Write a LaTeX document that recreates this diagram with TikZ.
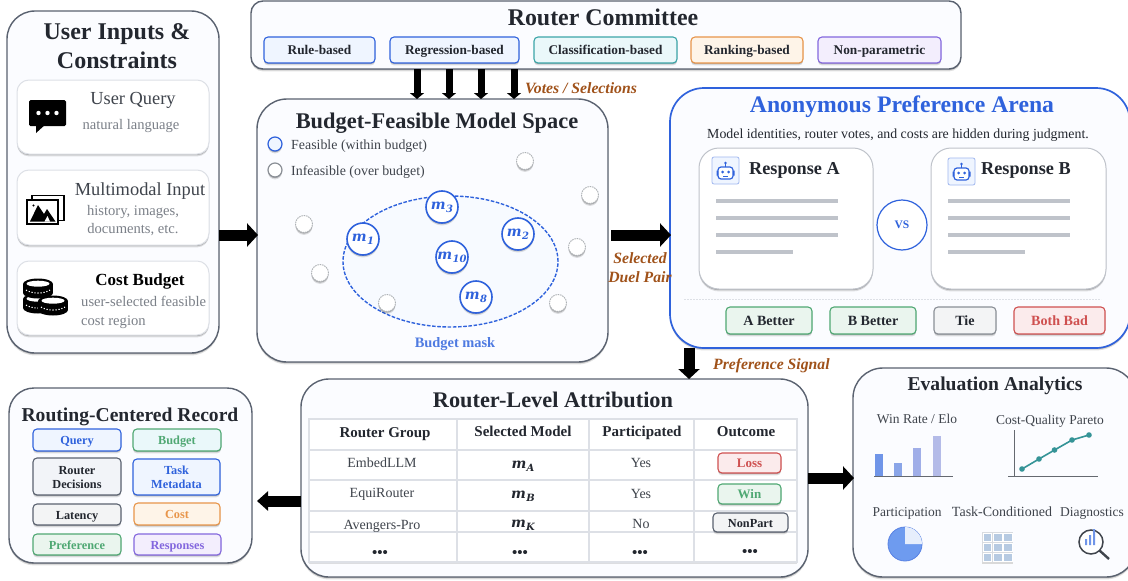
\documentclass[tikz,border=0pt]{standalone}
\usepackage{fontspec}
\usepackage{xcolor}
\setmainfont{Liberation Serif}
\newfontfamily\mathlike{DejaVu Serif}
\usetikzlibrary{arrows.meta,shadows,shapes.geometric,positioning,calc}
\definecolor{ink}{HTML}{23272F}
\definecolor{panelline}{HTML}{5A6270}
\definecolor{panelfill}{HTML}{FBFCFF}
\definecolor{cardline}{HTML}{DDE0E6}
\definecolor{soft}{HTML}{7B8088}
\definecolor{mid}{HTML}{3F444C}
\definecolor{bblue}{HTML}{2F62DC}
\definecolor{bbluefill}{HTML}{EFF5FF}
\definecolor{bgreen}{HTML}{4FA873}
\definecolor{bgreenfill}{HTML}{EAF5EE}
\definecolor{bteal}{HTML}{3BA5A8}
\definecolor{btealfill}{HTML}{EAF8FA}
\definecolor{borange}{HTML}{E8954A}
\definecolor{borangefill}{HTML}{FEF4E8}
\definecolor{bpurple}{HTML}{8367DE}
\definecolor{bpurplefill}{HTML}{F3EEFD}
\definecolor{bred}{HTML}{CF5050}
\definecolor{bredfill}{HTML}{FBEBEC}
\definecolor{bgray}{HTML}{8A8F96}
\definecolor{bgrayfill}{HTML}{F3F4F5}
\definecolor{brown}{HTML}{A0521A}
\definecolor{barline}{HTML}{BFC3CA}
\definecolor{barA}{HTML}{7095E8}
\definecolor{barB}{HTML}{8AA5E8}
\definecolor{barC}{HTML}{A0AEE8}
\definecolor{barD}{HTML}{B4BBE8}
\definecolor{pieblue}{HTML}{6E9BEF}
\definecolor{piepale}{HTML}{E6EEFC}
\definecolor{heat}{HTML}{B6CAE2}
\definecolor{heatline}{HTML}{D8DBE0}
\tikzset{
  softshadow/.style={drop shadow={shadow xshift=0pt,shadow yshift=-1.2pt,opacity=.22,fill=black},
                     drop shadow={shadow xshift=0pt,shadow yshift=-2.4pt,opacity=.12,fill=black}},
  textdrop/.style={yshift=-2.5pt},
  panel/.style={draw=panelline,line width=1.4pt,fill=panelfill,softshadow},
  card/.style={draw=cardline,line width=1pt,fill=white,rounded corners=12pt,softshadow},
  chip/.style={line width=1.1pt,rounded corners=4pt,softshadow,font=\bfseries\fontsize{12.3}{14}\selectfont,align=center,inner sep=0pt},
  chiptop/.style={font=\bfseries\fontsize{13.3}{15}\selectfont},
  chipmid/.style={font=\bfseries\fontsize{14.1}{16}\selectfont},
  chipdark/.style={chip,draw=bblue,fill=bbluefill,text=ink},
  chipbluetext/.style={chip,draw=bblue,fill=bbluefill,text=bblue},
  chipgreen/.style={chip,draw=bgreen,fill=bgreenfill,text=bgreen},
  chipgreendark/.style={chip,draw=bgreen,fill=bgreenfill,text=ink},
  chipteal/.style={chip,draw=bteal,fill=btealfill,text=ink},
  chiporange/.style={chip,draw=borange,fill=borangefill,text=ink},
  chiporangetext/.style={chip,draw=borange,fill=borangefill,text=borange},
  chippurple/.style={chip,draw=bpurple,fill=bpurplefill,text=ink},
  chippurpletext/.style={chip,draw=bpurple,fill=bpurplefill,text=bpurple},
  chipred/.style={chip,draw=bred,fill=bredfill,text=bred},
  chipgray/.style={chip,draw=bgray,fill=bgrayfill,text=ink},
  chipslate/.style={chip,draw=panelline,fill=bgrayfill,text=ink},
  title/.style={textdrop,inner sep=0pt,text=ink,text height=16.5pt,text depth=6pt,font=\bfseries\fontsize{23}{28}\selectfont},
  subtitle/.style={textdrop,inner sep=0pt,text=ink,text height=14pt,text depth=5pt,font=\bfseries\fontsize{19.6}{23}\selectfont},
  plain/.style={textdrop,inner sep=0pt,text=mid,text height=9.5pt,text depth=4pt,font=\fontsize{13.5}{16}\selectfont},
  tablecell/.style={textdrop,inner sep=0pt,text=mid,text height=9.5pt,text depth=4pt,font=\fontsize{14}{16}\selectfont},
  tablehead/.style={textdrop,inner sep=0pt,text=ink,text height=9.5pt,text depth=4pt,font=\bfseries\fontsize{15}{17}\selectfont},
  hint/.style={textdrop,inner sep=0pt,text=soft,text height=9.5pt,text depth=4pt,font=\fontsize{14.6}{16}\selectfont},
  cardtitle/.style={textdrop,inner sep=0pt,text=mid,text height=12.5pt,text depth=5pt,font=\fontsize{18.4}{20}\selectfont},
  resptitle/.style={textdrop,inner sep=0pt,text=ink,anchor=west,text height=12.5pt,text depth=5pt,font=\bfseries\fontsize{18.2}{20}\selectfont},
  flowlabel/.style={textdrop,inner sep=0pt,text=brown,text height=10.5pt,text depth=4pt,font=\bfseries\itshape\fontsize{15.7}{19}\selectfont},
  bigarrow/.style={line width=11pt,-{Triangle[length=11pt,width=23pt]},shorten >=-1pt},
  vote/.style={line width=7pt,-{Triangle[length=6pt,width=14pt]}},
  model/.style={circle,draw=bblue,line width=1.6pt,fill=white,minimum size=32pt,inner sep=0pt,text=bblue,softshadow},
  ghost/.style={circle,draw=bgray!70,dash pattern=on 1.6pt off .8pt,line width=.9pt,fill=white,minimum size=17pt,inner sep=0pt,softshadow},
  respline/.style={barline,line width=4.2pt},
  gridline/.style={cardline,line width=2pt},
  bulletrow/.style={textdrop,inner sep=0pt,text=ink,text height=8pt,text depth=0pt,font=\bfseries\fontsize{15}{16}\selectfont},
  modelsym/.style={yshift=-1pt,inner sep=0pt,text=ink},
}
\newcommand{\msym}[2]{{\mathlike\bfseries\itshape\fontsize{14}{16}\selectfont m\kern.3pt\raisebox{-3pt}{\fontsize{10}{12}\selectfont #2}}}
\newcommand{\boxat}[7]{%
  \pgfmathsetmacro{\bx}{(#2+#4)/2}\pgfmathsetmacro{\by}{(#3+#5)/2}%
  \pgfmathsetmacro{\bw}{#4-#2}\pgfmathsetmacro{\bh}{#5-#3}%
  \node[#6,minimum width=\bw pt,minimum height=\bh pt,outer sep=0pt] (#1) at (\bx,\by) {\rule{0pt}{13.8pt}#7\rule[-4.4pt]{0pt}{4.4pt}};}
\newcommand{\roboticon}[2]{%
  \begin{scope}[shift={(#1,#2)}]
    \draw[draw=bblue!45,fill=bbluefill,line width=.8pt,rounded corners=2pt] (0,0) rectangle (27,27);
    \draw[bblue,line width=1.2pt,fill=white,rounded corners=3pt] (6,10) rectangle (21,22);
    \fill[bblue] (10.5,15) circle (1.5) (16.5,15) circle (1.5);
    \draw[bblue,line width=1pt] (11,19) -- (16,19) (13.5,10) -- (13.5,7);
    \fill[bblue] (13.5,6) circle (1.4);
    \fill[bblue] (4.5,13.5) rectangle (6,18.5) (21,13.5) rectangle (22.5,18.5);
  \end{scope}}
\newcommand{\coinstack}[2]{%
  \begin{scope}[shift={(#1,#2)}]
    \fill[black] (-15,0) rectangle (15,9);
    \fill[black] (0,9) circle[x radius=15,y radius=5.5];
    \fill[black] (0,0) circle[x radius=15,y radius=5.5];
    \fill[white] (0,-.3) circle[x radius=11.5,y radius=3];
    \draw[white,line width=1.1pt,dash pattern=on 1.2pt off 1.8pt] (-12,6) .. controls (-6,10) and (6,10) .. (12,6);
  \end{scope}}
\begin{document}
\begin{tikzpicture}[x=1pt,y=-1pt]
\useasboundingbox (0,0) rectangle (1128,581);
\fill[white] (0,0) rectangle (1128,581);

% ---------- panels
\boxat{inputs}{7}{11}{219}{353}{panel,rounded corners=28pt}{}
\boxat{committee}{251}{1}{961}{69}{panel,rounded corners=12pt}{}
\boxat{space}{257}{99}{608}{362}{panel,rounded corners=30pt}{}
\boxat{arena}{670}{88}{1130}{348}{draw=bblue,line width=1.7pt,fill=panelfill,softshadow,rounded corners=34pt}{}
\boxat{record}{9}{388}{252}{563}{panel,rounded corners=25pt}{}
\boxat{attrib}{301}{379}{808}{577}{panel,rounded corners=28pt}{}
\boxat{evalp}{853}{368}{1136}{577}{panel,rounded corners=30pt}{}

% ---------- connectors
\coordinate (ya) at (0,235);
\draw[bigarrow] (inputs.east |- ya) -- (space.west |- ya);
\draw[bigarrow] ($(space.east |- ya)+(3,0)$) -- (arena.west |- ya);
\foreach \vx/\vn in {417/a,449/b,481/c,514/d}{
  \coordinate (vx\vn) at (\vx,0);
  \draw[vote] (committee.south -| vx\vn) -- (space.north -| vx\vn);
}
\coordinate (xp) at (689,0);
\draw[line width=11pt,-{Triangle[length=10pt,width=21pt]}] (arena.south -| xp) -- (attrib.north -| xp);
\coordinate (yr) at (0,478);
\draw[bigarrow] (attrib.east |- yr) -- (evalp.west |- yr);
\coordinate (yl) at (0,501);
\draw[line width=11pt,-{Triangle[length=11pt,width=19pt]}] (attrib.west |- yl) -- ($(record.east |- yl)+(5,0)$);

\node[flowlabel,anchor=west] (lvotes) at (525,88) {Votes / Selections};
\node[flowlabel] (lduel1) at (640,258) {Selected};
\node[flowlabel] (lduel2) at (640,277) {Duel Pair};
\node[flowlabel,anchor=west] (lpref) at (713,364) {Preference Signal};

% ---------- inputs
\node[title,font=\bfseries\fontsize{24}{28}\selectfont] (tinputs1) at (117,32) {User Inputs \&};
\node[title,font=\bfseries\fontsize{24}{28}\selectfont] (tinputs2) at (117,60.5) {Constraints};
\boxat{cquery}{17}{80}{209}{154}{card}{}
\boxat{cmulti}{17}{170}{209}{245}{card}{}
\boxat{ccost}{17}{261}{209}{335}{card}{}
\node[cardtitle] (uq) at (133,98) {User Query};
\node[hint] (nl) at (131,124) {natural language};
\node[cardtitle] (mi) at (140,189) {Multimodal Input};
\node[hint] (hi) at (133,210) {history, images,};
\node[hint] (doc) at (133,228) {documents, etc.};
\node[textdrop,inner sep=0pt,text=black,text height=12pt,text depth=4pt,font=\bfseries\fontsize{17}{18}\selectfont] (cb) at (140,279) {Cost Budget};
\node[hint,anchor=west] (us) at (81,301) {user-selected feasible};
\node[hint,anchor=west] (cr) at (81,320) {cost region};
% speech bubble icon
\fill[black,rounded corners=1.5pt] (29,100) rectangle (66,126);
\fill[black] (36,124) -- (36,133) -- (46,124) -- cycle;
\fill[white] (38.5,113) circle (2.2) (47.5,113) circle (2.2) (56.5,113) circle (2.2);
% images icon
\draw[black,line width=1.8pt,fill=white] (32,195.5) rectangle (64,220.5);
\draw[black,line width=1.8pt,fill=white] (27,200) rectangle (58,224);
\fill[black] (30,221.5) -- (38,205) -- (44,214) -- (47,209) -- (55.5,221.5) -- cycle;
\fill[white] (44.5,221.5) -- (47.5,216) -- (50,221.5) -- cycle;
\fill[black] (33.5,205.5) circle (1.1);
% coins icon
\coinstack{38}{299}
\coinstack{38}{284}
\coinstack{53}{301}

% ---------- committee
\node[title,font=\bfseries\fontsize{23.9}{28}\selectfont] (tcomm) at (603,18) {Router Committee};
\boxat{rule}{264}{37}{375}{63}{chipdark,chiptop}{Rule-based}
\boxat{regr}{390}{37}{519}{63}{chipdark,chiptop}{Regression-based}
\boxat{clas}{534}{37}{677}{63}{chipteal,chiptop}{Classification-based}
\boxat{rank}{691}{37}{803}{63}{chiporange,chiptop}{Ranking-based}
\boxat{nonp}{818}{37}{941}{63}{chippurple,chiptop}{Non-parametric}

% ---------- model space
\node[title,font=\bfseries\fontsize{22.4}{28}\selectfont] (tspace) at (437,121) {Budget-Feasible Model Space};
\node[circle,draw=bblue,line width=1.2pt,fill=bbluefill,minimum size=14pt,inner sep=0pt,softshadow] (legf) at (275,144) {};
\node[circle,draw=bgray,line width=1.2pt,fill=white,minimum size=14pt,inner sep=0pt,softshadow] (legi) at (275,170) {};
\node[plain,anchor=west,font=\fontsize{13.9}{16}\selectfont] (tf) at (291,144) {Feasible (within budget)};
\node[plain,anchor=west,font=\fontsize{13.9}{16}\selectfont] (ti) at (291,170) {Infeasible (over budget)};
\node[ellipse,draw=bblue,dash pattern=on 3.6pt off 1.6pt,line width=1.4pt,fill=bbluefill!50,minimum width=215pt,minimum height=131pt,inner sep=0pt] (mask) at (450.5,261.5) {};
\foreach \gx/\gy/\gn in {525/161/g1,590/195/g2,577/247/g3,558/303/g4,304/224/g5,320/273/g6,387/303/g7}{
  \node[ghost] (\gn) at (\gx,\gy) {};
}
\node[model] (m1) at (363,239) {\msym{m}{1}};
\node[model] (m3) at (442,207) {\msym{m}{3}};
\node[model] (m2) at (518,234) {\msym{m}{2}};
\node[model] (m10) at (452,257) {\msym{m}{10}};
\node[model] (m8) at (476,297) {\msym{m}{8}};
\node[textdrop,inner sep=0pt,text=bblue!85,text height=10pt,text depth=3.5pt,font=\bfseries\fontsize{14.4}{16}\selectfont] (bm) at (455,342) {Budget mask};

% ---------- arena
\node[title,text=bblue,font=\bfseries\fontsize{23.7}{28}\selectfont] (tarena) at (902,105) {Anonymous Preference Arena};
\node[plain,font=\fontsize{13.85}{16}\selectfont,text=ink] (sub) at (898,133) {Model identities, router votes, and costs are hidden during judgment.};
\boxat{ra}{699}{148}{873}{289}{card,rounded corners=20pt,draw=barline}{}
\boxat{rb}{931}{148}{1106}{289}{card,rounded corners=20pt,draw=barline}{}
\roboticon{712}{157}
\roboticon{948}{158}
\node[resptitle] (ta) at (749,168) {Response A};
\node[resptitle] (tb) at (981,168) {Response B};
\foreach \ly in {201,218,235}{
  \draw[respline] (716,\ly) -- (838,\ly);
  \draw[respline] (948,\ly) -- (1070,\ly);
}
\draw[respline] (716,252) -- (793,252);
\draw[respline] (948,252) -- (1025,252);
\node[circle,draw=bblue,line width=1.2pt,fill=white,minimum size=50pt,inner sep=0pt,text=bblue,font=\bfseries\fontsize{11.5}{13}\selectfont] (vs) at (902,225) {\raisebox{-2pt}{VS}};
\draw[cardline,line width=.9pt,dash pattern=on 2pt off 1pt] (684,299) -- (1101,299);
\boxat{abetter}{726}{307}{812}{334}{chipgreendark,chipmid}{A Better}
\boxat{bbetter}{830}{307}{916}{334}{chipgreendark,chipmid}{B Better}
\boxat{tie}{934}{307}{996}{334}{chipgray,chipmid}{Tie}
\boxat{bothbad}{1014}{307}{1105}{334}{chipred,chipmid}{Both Bad}

% ---------- record
\node[subtitle] (trec) at (130,414) {Routing-Centered Record};
\boxat{rq}{33}{429}{121}{451}{chipbluetext}{Query}
\boxat{rbud}{133}{429}{221}{451}{chipgreen,fill=btealfill}{Budget}
\boxat{rdec}{33}{458}{121}{495}{chipslate,fill=bgrayfill!70!bbluefill}{Router\\Decisions}
\boxat{rtask}{133}{459}{220}{495}{chipbluetext}{Task\\Metadata}
\boxat{rlat}{33}{504}{121}{525}{chipslate}{Latency}
\boxat{rcost}{134}{503}{220}{525}{chiporangetext}{Cost}
\boxat{rpref}{33}{534}{121}{555}{chipgreen}{Preference}
\boxat{rresp}{134}{534}{221}{555}{chippurpletext}{Responses}

% ---------- attribution table
\node[title,font=\bfseries\fontsize{22.3}{28}\selectfont] (tatt) at (553,400) {Router-Level Attribution};
\boxat{tbl}{309}{419}{797}{562}{draw=cardline,line width=1.6pt,fill=white,softshadow}{}
\foreach \tx in {457,589,694}{\draw[gridline] (\tx,419) -- (\tx,562);}
\foreach \ty in {450,480,511,532}{\draw[gridline] (309,\ty) -- (797,\ty);}
\node[tablehead] (h1) at (385,432) {Router Group};
\node[tablehead] (h2) at (523,431) {Selected Model};
\node[tablehead] (h3) at (642,431) {Participated};
\node[tablehead] (h4) at (746,431) {Outcome};
\node[tablecell] (c11) at (382,462) {EmbedLLM};
\node[modelsym] (c12) at (523,465) {\msym{m}{A}};
\node[tablecell] (c13) at (641,462) {Yes};
\boxat{oloss}{718}{453}{781}{473}{chipred,font=\bfseries\fontsize{13}{15}\selectfont}{Loss}
\node[tablecell] (c21) at (382,492) {EquiRouter};
\node[modelsym] (c22) at (523,495) {\msym{m}{B}};
\node[tablecell] (c23) at (641,493) {Yes};
\boxat{owin}{718}{484}{781}{504}{chipgreen,font=\bfseries\fontsize{13}{15}\selectfont}{Win}
\node[tablecell] (c31) at (382,524) {Avengers-Pro};
\node[modelsym] (c32) at (523,524) {\msym{m}{K}};
\node[tablecell] (c33) at (641,523) {No};
\boxat{onon}{713}{513}{788}{532}{chipslate}{NonPart}
\node[bulletrow] (d1) at (380,551) {•••};
\node[bulletrow] (d2) at (520,551) {•••};
\node[bulletrow] (d3) at (640,551) {•••};
\node[bulletrow] (d4) at (750,550) {•••};

% ---------- evaluation analytics
\node[subtitle] (teval) at (995,383) {Evaluation Analytics};
\node[plain] (e1) at (917,418) {Win Rate / Elo};
\node[plain] (e2) at (1050,419) {Cost-Quality Pareto};
\node[plain] (e3) at (907,511) {Participation};
\node[plain,font=\fontsize{14}{16}\selectfont] (e4) at (1002,511) {Task-Conditioned};
\node[plain] (e5) at (1092,511) {Diagnostics};
\fill[barA] (875,454) rectangle (883,476);
\fill[barB] (894,463) rectangle (902,476);
\fill[barC] (913,448) rectangle (921,476);
\fill[barD] (933,436) rectangle (941,476);
\draw[mid!80,line width=1pt] (874,476) -- (953,476);
\draw[mid!80,line width=1pt] (1014,430) -- (1014,476);
\draw[mid!80,line width=1pt] (1008,476) -- (1098,476);
\draw[bteal!90!black,line width=1.6pt] (1022,469) -- (1039,459) -- (1054.5,450) -- (1072,440) -- (1089,435);
\foreach \px/\py in {1022/469,1039/459,1054.5/450,1072/440,1089/435}{\fill[bteal!90!black] (\px,\py) circle (2.8);}
% pie
\draw[bblue!80,line width=.8pt,fill=pieblue] (905,544) circle (17);
\fill[piepale] (905,544) -- (905,527) arc[start angle=-90,end angle=0,radius=17] -- cycle;
% heat grid
\fill[black!15] (982,533) rectangle (1013,563.5);
\fill[heatline] (982,532) rectangle (1013,562);
\foreach \hx in {983,993.3,1003.6}{\foreach \hy in {533,543,553}{
  \draw[white,line width=.8pt,fill=heat] (\hx,\hy) rectangle (\hx+8.6,\hy+8.2);
}}
% magnifier
\draw[mid,line width=2.4pt] (1099.5,550.5) -- (1109,559);
\draw[mid,line width=1.5pt,fill=white] (1091,542) circle (12);
\fill[barA] (1085,539) rectangle (1087,545) (1089,535) rectangle (1091,545) (1093,529) rectangle (1095,545);
\end{tikzpicture}
\end{document}
